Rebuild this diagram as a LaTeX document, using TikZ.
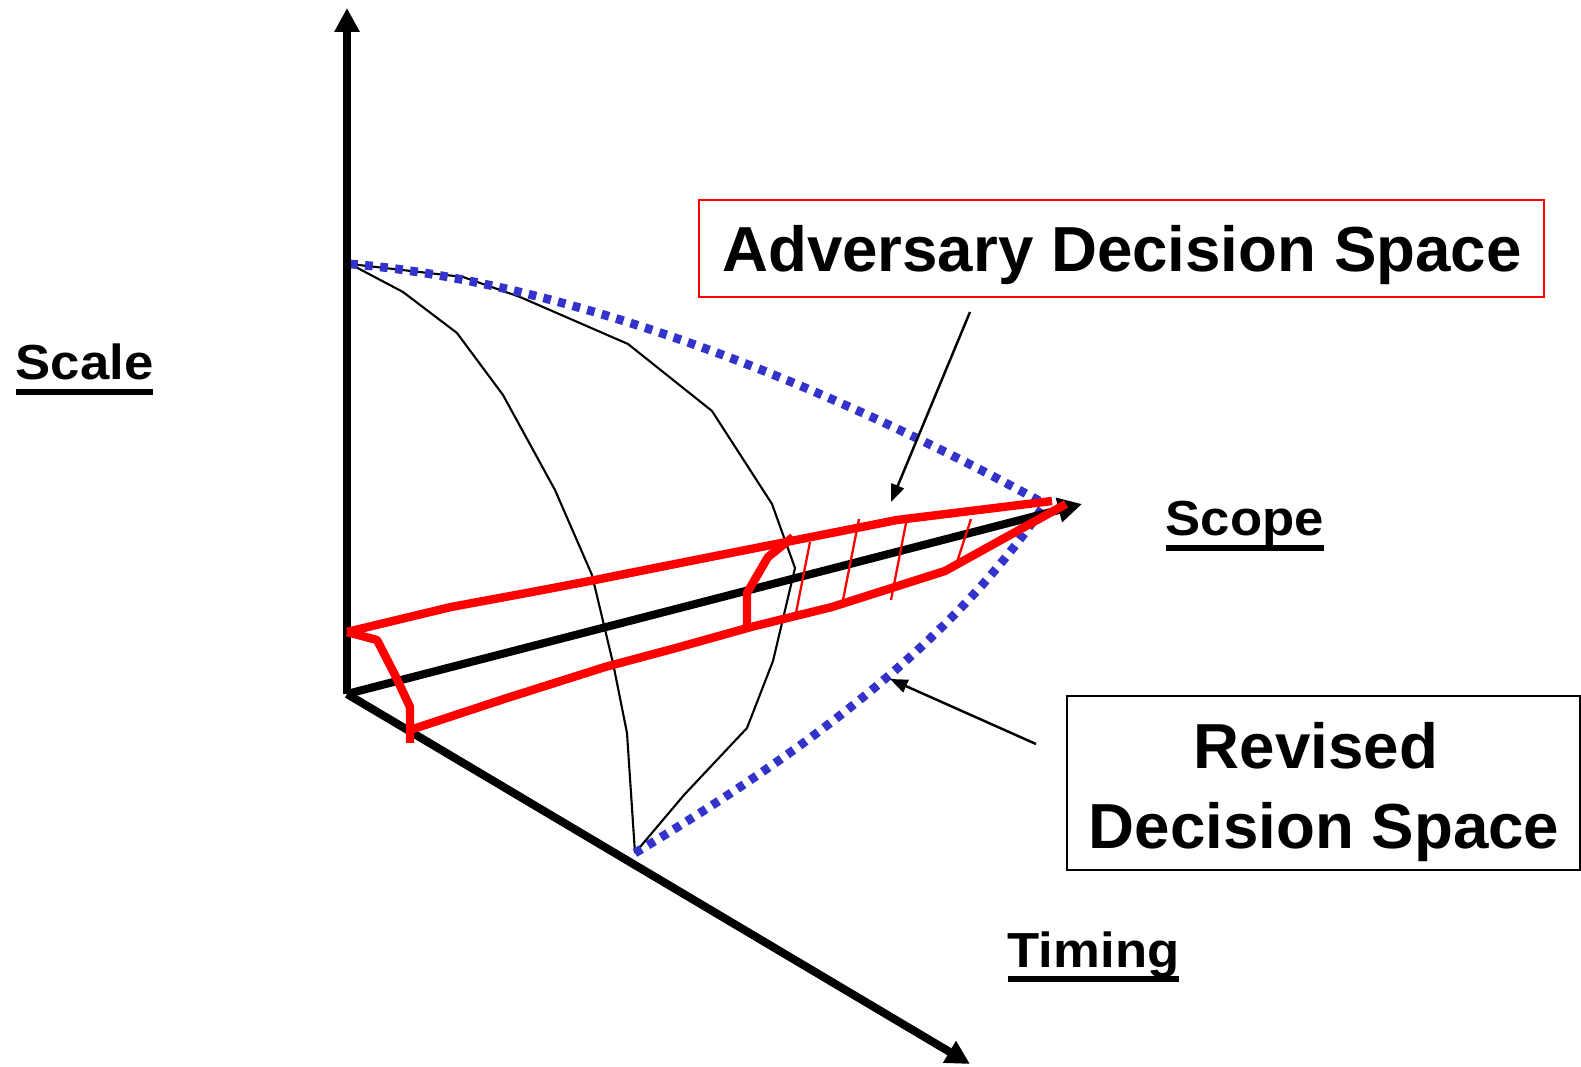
\documentclass[tikz,border=0pt]{standalone}
\usepackage{fontspec}
\setmainfont{Liberation Sans}
\usetikzlibrary{arrows.meta}
\definecolor{dotblue}{RGB}{51,51,204}
\definecolor{redline}{RGB}{255,0,0}
\newcommand{\ulab}[1]{\setbox0\hbox{#1}\rlap{\raisebox{-4.3pt}{\rule{\wd0}{1.7pt}}}\box0}
\tikzset{
  axis/.style={line width=2.3pt, -{Triangle[length=6.8pt,width=6.8pt]}},
  thincurve/.style={line width=0.6pt, line join=round},
  dotcurve/.style={dotblue, line width=2.5pt, dash pattern=on 2.2pt off 2.1pt},
  redthick/.style={redline, line width=2.4pt, line join=round},
  redthin/.style={redline, line width=0.65pt},
  pointer/.style={line width=0.7pt, -{Triangle[length=5pt,width=3.8pt]}},
  bigtext/.style={font=\fontsize{18.1}{23.3}\selectfont\bfseries, inner sep=0pt},
  axlabel/.style={font=\fontsize{14}{16}\selectfont\bfseries, inner sep=0pt, anchor=base west},
}
\begin{document}
\begin{tikzpicture}[x=0.01cm, y=-0.01cm]
\useasboundingbox (0,0) rectangle (1581,1067);
% key points
\coordinate (O) at (347,694);
\coordinate (scaletip) at (347,8);
\coordinate (scopetip) at (1082,504);
\coordinate (timingtip) at (970,1064);
\coordinate (top) at (350,264);
\coordinate (bot) at (635,853);
\coordinate (apex) at (1045,504);
% thin black curves
\draw[thincurve] (top) -- (403,292) -- (457,333) -- (503,395) -- (555,490) -- (592,575) -- (613,663) -- (627,733) -- (bot);
\draw[thincurve] (top) -- (463,277) -- (520,297) -- (628,344) -- (712,411) -- (772,504) -- (795,568) -- (773,661) -- (747,728) -- (684,795) -- (bot);
% blue dotted envelope
\draw[dotcurve] (top) .. controls (550,280) and (800,370) .. (apex);
\draw[dotcurve] (bot) .. controls (775,769) and (945,655) .. (apex);
% axes
\draw[axis] (O) -- (scaletip);
\draw[axis] (O) -- (scopetip);
\draw[axis] (O) -- (timingtip);
% red decision space
\draw[redthick] (347,632) -- (451,607) -- (532,592) -- (595,580) -- (665,566) -- (771,545) -- (897,520) -- (1052,501);
\draw[redthick] (410,730) -- (504,699) -- (605,667) -- (676,648) -- (751,627) -- (832,607) -- (945,571) -- (1066,504);
\draw[redthick] (347,632) -- (377,640) -- (395,675) -- (410,707) -- (410,743);
\draw[redthick] (747,627) -- (747,593) -- (768,557) -- (793,537);
\draw[redthin] (810,542) -- (796,613);
\draw[redthin] (859,519) -- (843,600);
\draw[redthin] (906,523) -- (891,600);
\draw[redthin] (971,519) -- (957,562);
% labels
\node[axlabel] (scale) at (15,380) {\scalebox{1.07}[1]{\ulab{Scale}}};
\node[axlabel] (scope) at (1165,536) {\scalebox{1.07}[1]{\ulab{Scope}}};
\node[axlabel] (timing) at (1007,967) {\scalebox{1.07}[1]{\ulab{Timing}}};
% boxes
\node[draw=redline, line width=0.6pt, minimum width=8.45cm, minimum height=0.97cm, inner sep=0pt] (advbox) at (1121.5,248.5) {};
\node[bigtext, anchor=base] (advtext) at (1122,272) {Adversary Decision Space};
\node[draw=black, line width=0.6pt, minimum width=5.12cm, minimum height=1.74cm, inner sep=0pt] (revbox) at (1323.5,783) {};
\node[bigtext, anchor=base] (revtext1) at (1316,768) {Revised};
\node[bigtext, anchor=base] (revtext2) at (1324,849) {Decision Space};
% pointers
\coordinate (advfrom) at (970,312);
\coordinate (advto) at (891,502);
\coordinate (revfrom) at (1036,744);
\coordinate (revto) at (890,679);
\draw[pointer] (advfrom) -- (advto);
\draw[pointer] (revfrom) -- (revto);
\end{tikzpicture}
\end{document}
